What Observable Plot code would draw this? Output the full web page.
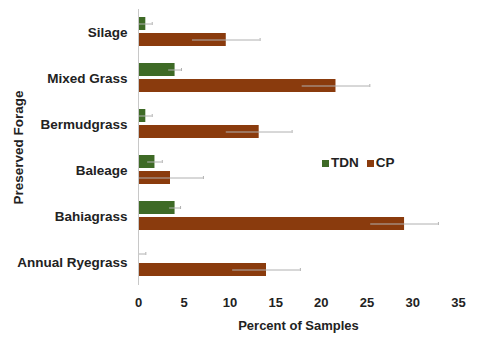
<!DOCTYPE html>
<html>
<head>
<meta charset="utf-8">
<script src="https://cdn.jsdelivr.net/npm/d3@7"></script>
<script src="https://cdn.jsdelivr.net/npm/@observablehq/plot@0.6"></script>
<style>
  html, body { margin: 0; padding: 0; background: #fff; }
  #wrap { position: relative; width: 480px; height: 344px; font-family: "Liberation Sans", Arial, sans-serif; }
  #legend { position: absolute; left: 322px; top: 155px; font-weight: bold; font-size: 13.5px; color: #222; display: flex; align-items: center; gap: 4px; }
  #legend .sw { display: inline-block; width: 7px; height: 7px; margin-right: 2px; }
</style>
</head>
<body>
<div id="wrap">
  <div id="chart"></div>
  <div id="legend"></div>
</div>
<script>
const categories = ["Silage", "Mixed Grass", "Bermudgrass", "Baleage", "Bahiagrass", "Annual Ryegrass"];
const series = ["TDN", "CP"];
const tdnValues = [0.8, 4.0, 0.8, 1.8, 4.0, 0.0];
const tdnErrors = [0.7, 0.7, 0.7, 0.8, 0.6, 0.8];
const cpValues = [9.6, 21.6, 13.2, 3.5, 29.1, 14.0];
const cpErrors = [3.7, 3.7, 3.6, 3.6, 3.7, 3.7];
const colors = ["#3e6a26", "#8a3b0d"];
const xTicks = [0, 5, 10, 15, 20, 25, 30, 35];

const rows = [];
categories.forEach((c, i) => {
  rows.push({category: c, series: "TDN", value: tdnValues[i], err: tdnErrors[i]});
  rows.push({category: c, series: "CP", value: cpValues[i], err: cpErrors[i]});
});
rows.forEach(d => { d.lo = Math.max(0, d.value - d.err); d.hi = d.value + d.err; });

const chart = Plot.plot({
  width: 480,
  height: 344,
  marginLeft: 138,
  marginRight: 22,
  marginTop: 8,
  marginBottom: 58,
  style: {fontFamily: "'Liberation Sans', Arial, sans-serif", fontSize: "13px", fontWeight: "bold", color: "#222"},
  x: {domain: [0, 35], ticks: xTicks, label: null},
  y: {domain: series, paddingInner: 0.18, paddingOuter: 0.45, axis: null},
  fy: {domain: categories, padding: 0, label: null},
  color: {domain: series, range: colors},
  marks: [
    Plot.barX(rows, {fy: "category", y: "series", x: "value", fill: "series"}),
    Plot.ruleY(rows, {fy: "category", y: "series", x1: "lo", x2: "hi", stroke: "#b0b0b0", strokeWidth: 1}),
    Plot.tickX(rows, {fy: "category", y: "series", x: "hi", stroke: "#b0b0b0", strokeWidth: 1, insetTop: 5, insetBottom: 5}),
    Plot.ruleX([0], {stroke: "#c8c8c8", strokeWidth: 1}),
    Plot.axisX({ticks: xTicks, tickSize: 0, tickPadding: 12, fontSize: 13, fontWeight: "bold", label: "Percent of Samples", labelArrow: "none", labelAnchor: "center", labelOffset: 44}),
    Plot.axisFy({anchor: "left", tickSize: 0, tickPadding: 11, fontSize: 13.5, fontWeight: "bold", label: "Preserved Forage", labelAnchor: "center", labelOffset: 125})
  ]
});
document.getElementById("chart").appendChild(chart);

const legend = document.getElementById("legend");
series.forEach((s, i) => {
  const item = document.createElement("span");
  item.style.marginRight = "4px";
  item.innerHTML = `<span class="sw" style="background:${colors[i]}"></span>${s}`;
  legend.appendChild(item);
});
</script>
</body>
</html>
